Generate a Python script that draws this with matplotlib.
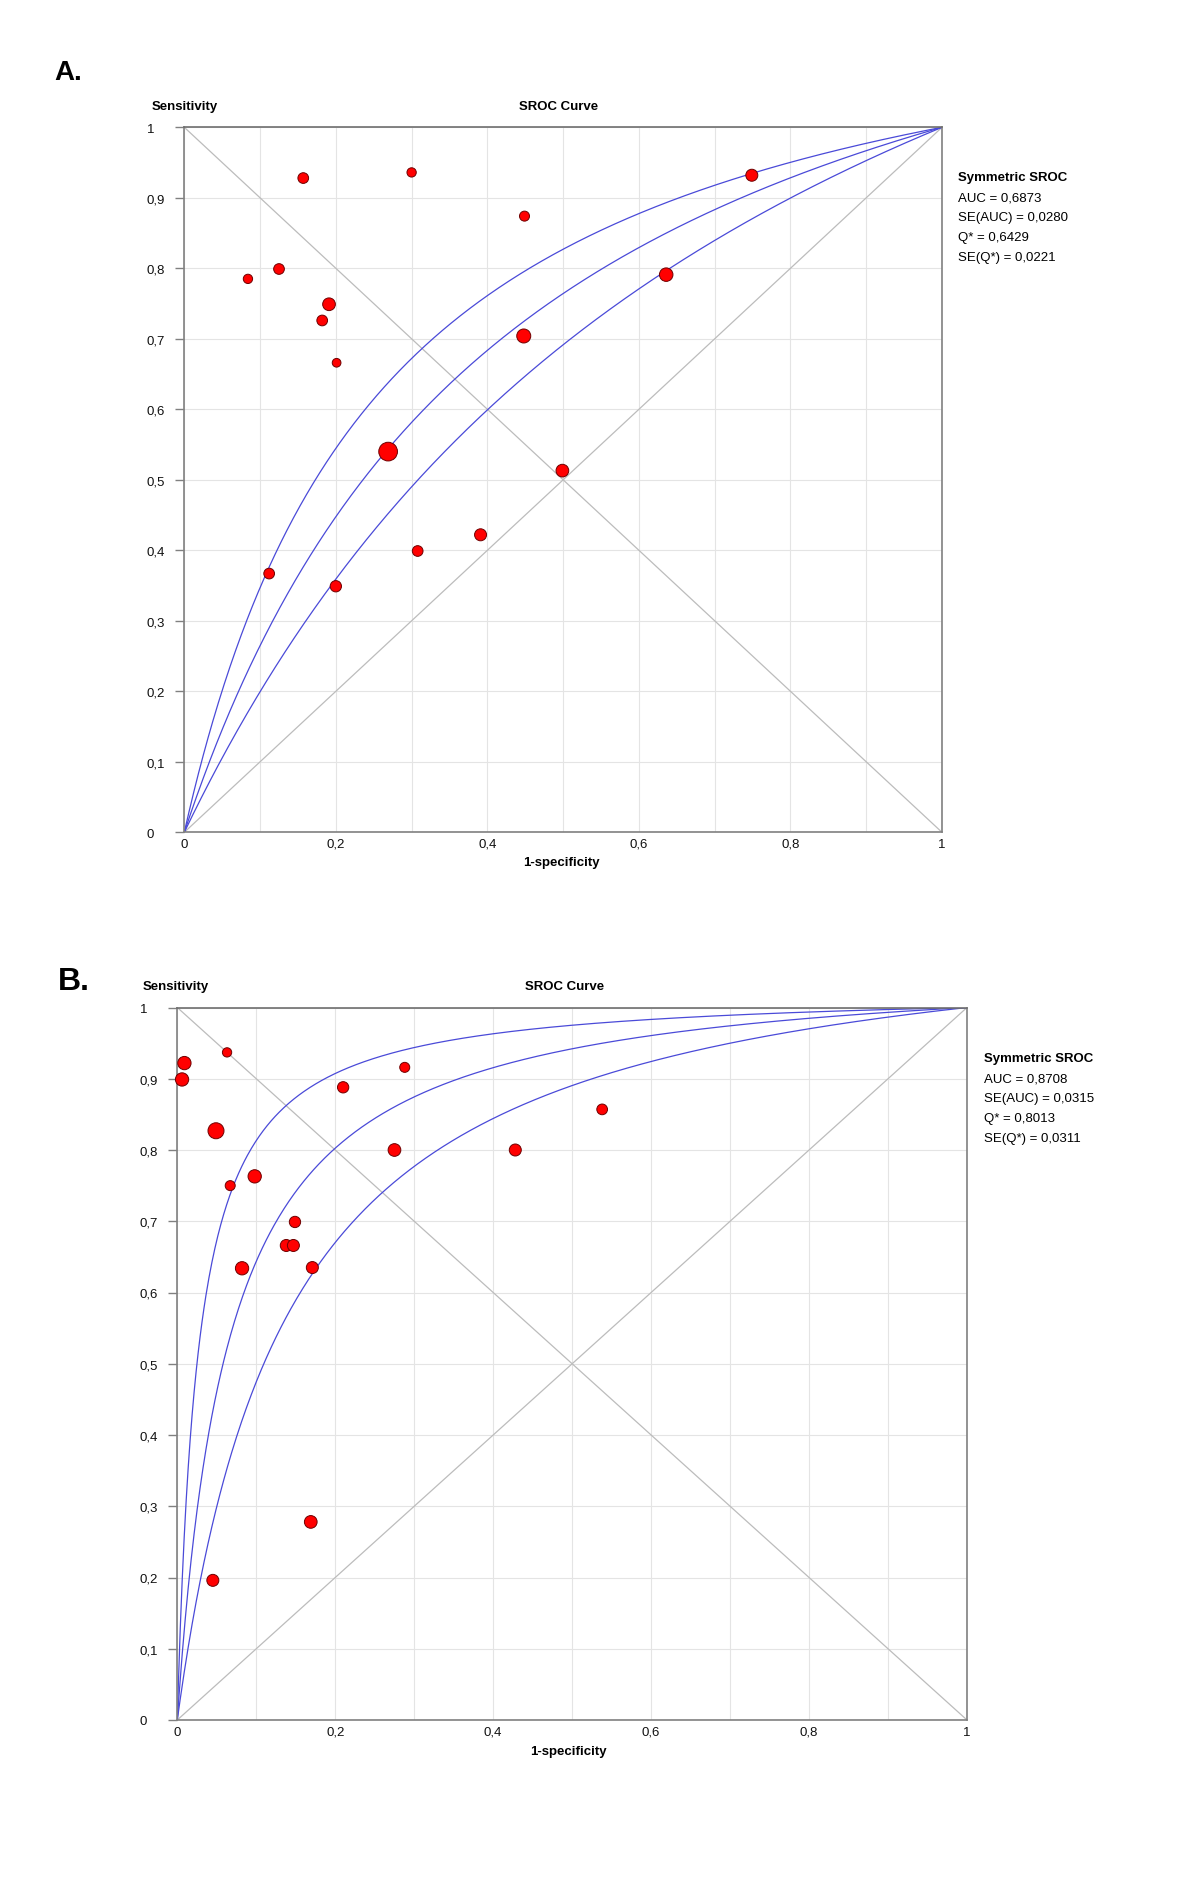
"""Two symmetric SROC plots (panels A and B) redrawn with matplotlib."""
import matplotlib

matplotlib.use("Agg")
import matplotlib.pyplot as plt
import numpy as np

plt.rcParams["font.family"] = ["Liberation Sans", "DejaVu Sans"]

W, H = 1200, 1890

# --- panel A: study points (1-specificity, sensitivity, marker diameter px)
a_fpr = [0.157, 0.300, 0.449, 0.084, 0.125, 0.191, 0.182, 0.201, 0.448,
         0.636, 0.749, 0.269, 0.499, 0.391, 0.308, 0.200, 0.112]
a_sens = [0.928, 0.936, 0.874, 0.785, 0.799, 0.749, 0.726, 0.666, 0.704,
          0.791, 0.932, 0.540, 0.513, 0.422, 0.399, 0.349, 0.367]
a_size = [10.7, 9.3, 10.0, 9.3, 10.7, 12.7, 10.7, 8.7, 14.0,
          13.5, 12.0, 18.7, 12.7, 12.0, 10.7, 11.3, 10.7]
a_stats = ["AUC = 0,6873", "SE(AUC) = 0,0280", "Q* = 0,6429", "SE(Q*) = 0,0221"]
a_q, a_se_q = 0.6429, 0.0221

# --- panel B
b_fpr = [0.009, 0.006, 0.063, 0.049, 0.067, 0.098, 0.082, 0.149, 0.138,
         0.147, 0.171, 0.210, 0.288, 0.275, 0.428, 0.538, 0.169, 0.045]
b_sens = [0.922, 0.899, 0.937, 0.827, 0.750, 0.763, 0.634, 0.699, 0.666,
          0.666, 0.635, 0.888, 0.916, 0.800, 0.800, 0.857, 0.278, 0.196]
b_size = [13.3, 13.3, 9.3, 16.0, 10.0, 13.3, 13.3, 11.3, 12.0,
          12.0, 12.0, 11.3, 10.0, 12.7, 12.0, 10.7, 12.7, 12.0]
b_stats = ["AUC = 0,8708", "SE(AUC) = 0,0315", "Q* = 0,8013", "SE(Q*) = 0,0311"]
b_q, b_se_q = 0.8013, 0.0311

y_ticks = [0, 0.1, 0.2, 0.3, 0.4, 0.5, 0.6, 0.7, 0.8, 0.9, 1]
y_labels = ["0", "0,1", "0,2", "0,3", "0,4", "0,5", "0,6", "0,7", "0,8", "0,9", "1"]
x_ticks = [0, 0.2, 0.4, 0.6, 0.8, 1]
x_labels = ["0", "0,2", "0,4", "0,6", "0,8", "1"]

GRAY = "#808080"
FS = 9.5


def px(x, y):
    return x / W, 1 - y / H


def sroc(q, fpr):
    # symmetric Moses-Littenberg curve, D = 2*logit(Q*)
    d = 2 * np.log(q / (1 - q))
    return 1 / (1 + np.exp(-d) * (1 - fpr) / fpr)


def panel(fig, rect, fpr, sens, size, q, se_q, stats, letter, letter_fs, lab):
    ax = fig.add_axes(rect)
    ax.set_xlim(0, 1)
    ax.set_ylim(0, 1)
    ax.set_xticks(np.arange(0, 1.01, 0.1), minor=True)
    ax.set_xticks(x_ticks, x_labels)
    ax.set_yticks(y_ticks, y_labels)
    ax.grid(True, which="both", color="#e4e4e4", lw=0.8, zorder=0)
    ax.set_axisbelow(True)
    for s in ax.spines.values():
        s.set_color(GRAY)
        s.set_linewidth(1.2)
    ax.spines["top"].set_color("#6e6e6e")
    ax.tick_params(axis="x", which="both", length=0, pad=4, labelsize=FS, colors="#111111")
    ax.tick_params(axis="y", length=6.2, width=1, color=GRAY, pad=21, labelsize=FS,
                   labelcolor="#111111")
    for t in ax.get_yticklabels():
        t.set_horizontalalignment("left")

    ax.plot([0, 1], [0, 1], color="#bcbcbc", lw=0.9, zorder=1)
    ax.plot([0, 1], [1, 0], color="#bcbcbc", lw=0.9, zorder=1)

    xs = np.linspace(1e-5, 1, 800)
    for qq in (q - 1.96 * se_q, q, q + 1.96 * se_q):
        ax.plot(np.r_[0, xs], np.r_[0, sroc(qq, xs)], color="#4a4ad8", lw=0.9, zorder=2)

    ax.scatter(fpr, sens, s=(np.array(size) * 0.72) ** 2, color="#ff0000",
               edgecolors="#6e0000", linewidths=0.7, zorder=3, clip_on=False)

    fig.text(*px(*lab["letter"]), letter, fontsize=letter_fs, fontweight="bold",
             va="center", ha="left")
    fig.text(*px(*lab["sens"]), "Sensitivity", fontsize=FS, fontweight="bold",
             va="center", ha="left")
    fig.text(*px(*lab["title"]), "SROC Curve", fontsize=FS, fontweight="bold",
             va="center", ha="center")
    fig.text(*px(*lab["xlab"]), "1-specificity", fontsize=FS, fontweight="bold",
             va="center", ha="center")
    sx, sy = lab["stats"]
    fig.text(*px(sx, sy), "Symmetric SROC", fontsize=FS, fontweight="bold",
             va="center", ha="left")
    for i, line in enumerate(stats):
        fig.text(*px(sx, sy + 20 * (i + 1)), line, fontsize=FS, va="center", ha="left")
    return ax


fig = plt.figure(figsize=(W / 100, H / 100), dpi=100)

panel(fig, [184.3 / W, 1 - 833.3 / H, (942 - 184.3) / W, (833.3 - 128.3) / H],
      a_fpr, a_sens, a_size, a_q, a_se_q, a_stats, "A.", 20,
      {"letter": (54, 72.5), "sens": (151.5, 107.3), "title": (558.5, 107.3),
       "xlab": (561, 863.3), "stats": (958.3, 178.3)})

panel(fig, [177.3 / W, 1 - 1721 / H, (967 - 177.3) / W, (1721 - 1008.5) / H],
      b_fpr, b_sens, b_size, b_q, b_se_q, b_stats, "B.", 23,
      {"letter": (58, 981.7), "sens": (142.3, 986.7), "title": (565, 986.7),
       "xlab": (568, 1751.7), "stats": (983.7, 1059)})

fig.savefig("out.png", dpi=100, facecolor="white")
